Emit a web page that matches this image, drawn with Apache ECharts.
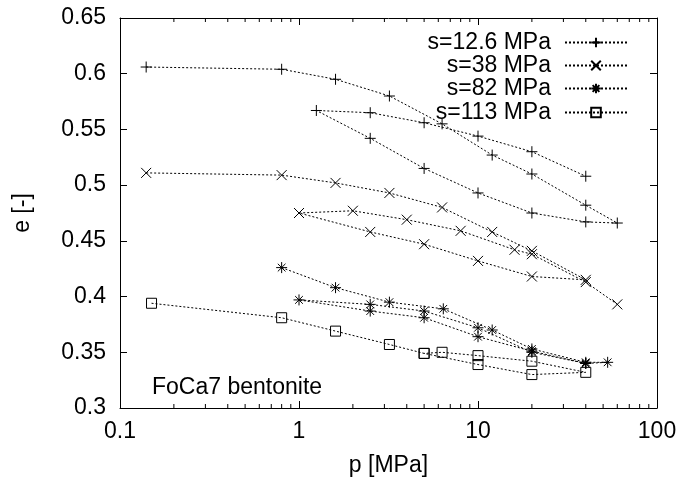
<!DOCTYPE html>
<html>
<head>
<meta charset="utf-8">
<script src="https://cdn.jsdelivr.net/npm/echarts@6/dist/echarts.min.js"></script>
<style>
  html, body { margin: 0; padding: 0; background: #fff; }
  #chart-container { width: 698px; height: 482px; }
</style>
</head>
<body>
<div id="chart-container"></div>
<script>
'use strict';

// s = 12.6 MPa
const p126 = [0.14, 0.8, 1.6, 3.2, 6.3, 12, 20, 40, 60, 40, 20, 10, 5, 2.5, 1.25, 2.5, 5, 10, 20, 40];
const e126 = [0.606, 0.604, 0.595, 0.580, 0.555, 0.527, 0.510, 0.482, 0.466, 0.467, 0.475, 0.493, 0.515, 0.542, 0.567, 0.565, 0.556, 0.544, 0.530, 0.508];

// s = 38 MPa
const p38 = [0.14, 0.8, 1.6, 3.2, 6.3, 12, 20, 40, 20, 10, 5, 2.5, 1, 2, 4, 8, 16, 20, 40, 60];
const e38 = [0.511, 0.509, 0.502, 0.493, 0.480, 0.458, 0.441, 0.415, 0.418, 0.432, 0.447, 0.458, 0.475, 0.477, 0.469, 0.459, 0.442, 0.438, 0.413, 0.393];

// s = 82 MPa
const p82 = [0.8, 1.6, 3.2, 6.4, 12, 20, 40, 53, 40, 20, 10, 5, 2.5, 1, 2.5, 5, 10, 20, 40];
const e82 = [0.426, 0.408, 0.395, 0.389, 0.370, 0.353, 0.341, 0.341, 0.340, 0.351, 0.364, 0.381, 0.387, 0.397, 0.393, 0.387, 0.372, 0.350, 0.340];

// s = 113 MPa
const p113 = [0.15, 0.8, 1.6, 3.2, 5, 10, 20, 40, 20, 10, 6.3, 5];
const e113 = [0.394, 0.381, 0.369, 0.357, 0.349, 0.339, 0.330, 0.332, 0.342, 0.347, 0.350, 0.349];

const seriesNames = ['s=12.6 MPa', 's=38 MPa', 's=82 MPa', 's=113 MPa'];
const minorTickValues = [0.2, 0.3, 0.4, 0.5, 0.6, 0.7, 0.8, 0.9, 2, 3, 4, 5, 6, 7, 8, 9, 20, 30, 40, 50, 60, 70, 80, 90];

const FONT = 'Liberation Sans';
const FS = 23;

const symbols = [
    'path://M0,5L10,5M5,0L5,10',
    'path://M0,0L10,10M10,0L0,10',
    'path://M0,5L10,5M5,0L5,10M1.5,1.5L8.5,8.5M8.5,1.5L1.5,8.5',
    'path://M0,0L10,0L10,10L0,10Z'
];
const symbolSizes = [11, 10, 11, 10];

function pairs(xs, ys) {
    return xs.map((x, i) => [x, ys[i]]);
}

const seriesData = [pairs(p126, e126), pairs(p38, e38), pairs(p82, e82), pairs(p113, e113)];

const myChart = echarts.init(document.getElementById('chart-container'), null, { renderer: 'canvas' });

const lineSeries = seriesData.map((d, i) => ({
    name: seriesNames[i],
    type: 'line',
    data: d,
    xAxisIndex: 0,
    yAxisIndex: 0,
    symbol: symbols[i],
    symbolSize: symbolSizes[i],
    showAllSymbol: true,
    itemStyle: { color: 'none', borderColor: '#000', borderWidth: 1 },
    lineStyle: { color: '#000', width: 1, type: [2, 2] },
    emphasis: { disabled: true },
    z: 3 + i
}));

// minor ticks of the log axis (bottom and top)
const minorTicks = {
    type: 'custom',
    silent: true,
    xAxisIndex: 0,
    yAxisIndex: 0,
    data: minorTickValues.map(v => [v]),
    encode: { x: 0 },
    renderItem: function (params, api) {
        const x = api.coord([api.value(0), 0.3])[0];
        const top = params.coordSys.y;
        const bottom = top + params.coordSys.height;
        return {
            type: 'group',
            children: [
                { type: 'line', shape: { x1: x, y1: bottom, x2: x, y2: bottom - 4 }, style: { stroke: '#000', lineWidth: 1 } },
                { type: 'line', shape: { x1: x, y1: top, x2: x, y2: top + 4 }, style: { stroke: '#000', lineWidth: 1 } }
            ]
        };
    },
    z: 2
};

const legendTops = [31, 54, 77, 101];
const legends = seriesNames.map((n, i) => ({
    data: [n],
    top: legendTops[i],
    right: 70,
    orient: 'horizontal',
    align: 'right',
    padding: 0,
    itemGap: 0,
    itemWidth: 62,
    itemHeight: 12,
    selectedMode: false,
    textStyle: { fontFamily: FONT, fontSize: FS, color: '#000', lineHeight: 12, padding: [0, 9, 0, 0] }
}));

const axisCommon = {
    axisLine: { show: true, lineStyle: { color: '#000', width: 1 } },
    axisTick: { show: true, inside: true, length: 7, lineStyle: { color: '#000' } },
    splitLine: { show: false }
};

const option = {
    animation: false,
    backgroundColor: '#fff',
    grid: { left: 120, right: 41, top: 18, bottom: 73 },
    legend: legends,
    xAxis: [
        Object.assign({}, axisCommon, {
            type: 'log',
            logBase: 10,
            min: 0.1,
            max: 100,
            position: 'bottom',
            name: 'p [MPa]',
            nameLocation: 'middle',
            nameGap: 46,
            nameTextStyle: { fontFamily: FONT, fontSize: FS, color: '#000' },
            axisLabel: { fontFamily: FONT, fontSize: FS, color: '#000', margin: 12 }
        }),
        Object.assign({}, axisCommon, {
            type: 'log',
            logBase: 10,
            min: 0.1,
            max: 100,
            position: 'top',
            axisLabel: { show: false }
        })
    ],
    yAxis: [
        Object.assign({}, axisCommon, {
            type: 'value',
            min: 0.3,
            max: 0.65,
            interval: 0.05,
            position: 'left',
            name: 'e [-]',
            nameLocation: 'middle',
            nameGap: 86,
            nameTextStyle: { fontFamily: FONT, fontSize: FS, color: '#000' },
            axisLabel: { fontFamily: FONT, fontSize: FS, color: '#000', margin: 14 }
        }),
        Object.assign({}, axisCommon, {
            type: 'value',
            min: 0.3,
            max: 0.65,
            interval: 0.05,
            position: 'right',
            axisLabel: { show: false }
        })
    ],
    graphic: [{
        type: 'text',
        left: 152,
        top: 376,
        style: { text: 'FoCa7 bentonite', fontFamily: FONT, fontSize: FS, fill: '#000' }
    }],
    series: [minorTicks].concat(lineSeries)
};

myChart.setOption(option);
window.addEventListener('resize', myChart.resize);
</script>
</body>
</html>
